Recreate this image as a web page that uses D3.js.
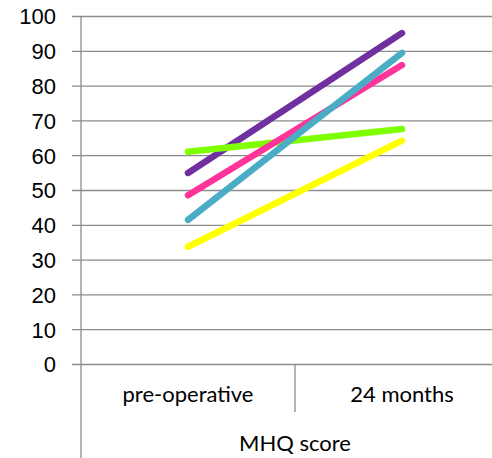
<!DOCTYPE html>
<html>
<head>
<meta charset="utf-8">
<script src="https://cdn.jsdelivr.net/npm/d3@7"></script>
<style>
  html, body { margin: 0; padding: 0; background: #fff; }
  svg { display: block; font-family: Lato, "Open Sans", sans-serif; }
</style>
</head>
<body>
<div id="chart"></div>
<script>
// MHQ score before surgery and at 24 months, one line per patient group
const categories = ["pre-operative", "24 months"];
const groupLabel = "MHQ score";
const yTicks = [0, 10, 20, 30, 40, 50, 60, 70, 80, 90, 100];

const seriesNames = ["yellow", "purple", "green", "pink", "teal"];
const seriesColors = ["#FFFF00", "#7030A0", "#7FFF00", "#FF3399", "#4BACC6"];
const yellowValues = [33.7, 64.2];
const purpleValues = [54.9, 95.1];
const greenValues  = [61.0, 67.5];
const pinkValues   = [48.5, 85.9];
const tealValues   = [41.4, 89.4];
const seriesValues = [yellowValues, purpleValues, greenValues, pinkValues, tealValues];

const W = 492, H = 458;
const plotLeft = 81, plotTop = 16, plotBottom = 364, plotRight = 509;
const fontSize = "22px";

const svg = d3.select("#chart").append("svg")
  .attr("width", W).attr("height", H);

const x = d3.scaleBand().domain(categories).range([plotLeft, plotRight]);
const y = d3.scaleLinear().domain([0, 100]).range([plotBottom, plotTop]);

const gridColor = "#8C8C8C";

// value axis with gridlines running across the plot
const yAxis = svg.append("g")
  .attr("transform", `translate(${plotLeft},0)`)
  .call(d3.axisLeft(y).tickValues(yTicks).tickSize(0).tickPadding(25));
yAxis.select(".domain").remove();
yAxis.selectAll("text")
  .attr("fill", "#000").style("font-size", fontSize).attr("dy", "0.36em");
yAxis.selectAll(".tick").append("line")
  .attr("x1", -9).attr("x2", W - plotLeft)
  .attr("stroke", gridColor).attr("stroke-width", 1.3);

// vertical axis line running down through the category area
svg.append("line")
  .attr("x1", plotLeft).attr("x2", plotLeft).attr("y1", plotTop).attr("y2", H)
  .attr("stroke", gridColor).attr("stroke-width", 1.3);

// divider between the two categories
svg.append("line")
  .attr("x1", x(categories[1])).attr("x2", x(categories[1]))
  .attr("y1", plotBottom).attr("y2", 412)
  .attr("stroke", gridColor).attr("stroke-width", 1.3);

// category labels
svg.append("g").selectAll("text").data(categories).join("text")
  .attr("x", d => x(d) + x.bandwidth() / 2)
  .attr("y", 402)
  .attr("text-anchor", "middle")
  .style("font-size", fontSize)
  .attr("fill", "#000")
  .text(d => d);

// group label
svg.append("text")
  .attr("x", (plotLeft + plotRight) / 2)
  .attr("y", 451)
  .attr("text-anchor", "middle")
  .style("font-size", fontSize)
  .attr("fill", "#000")
  .text(groupLabel);

// series lines
const line = d3.line()
  .x((d, i) => x(categories[i]) + x.bandwidth() / 2)
  .y(d => y(d));

svg.append("g").selectAll("path").data(seriesValues).join("path")
  .attr("d", d => line(d))
  .attr("fill", "none")
  .attr("stroke", (d, i) => seriesColors[i])
  .attr("stroke-width", 6.5)
  .attr("stroke-linecap", "round")
  .attr("class", (d, i) => "series-" + seriesNames[i]);
</script>
</body>
</html>
